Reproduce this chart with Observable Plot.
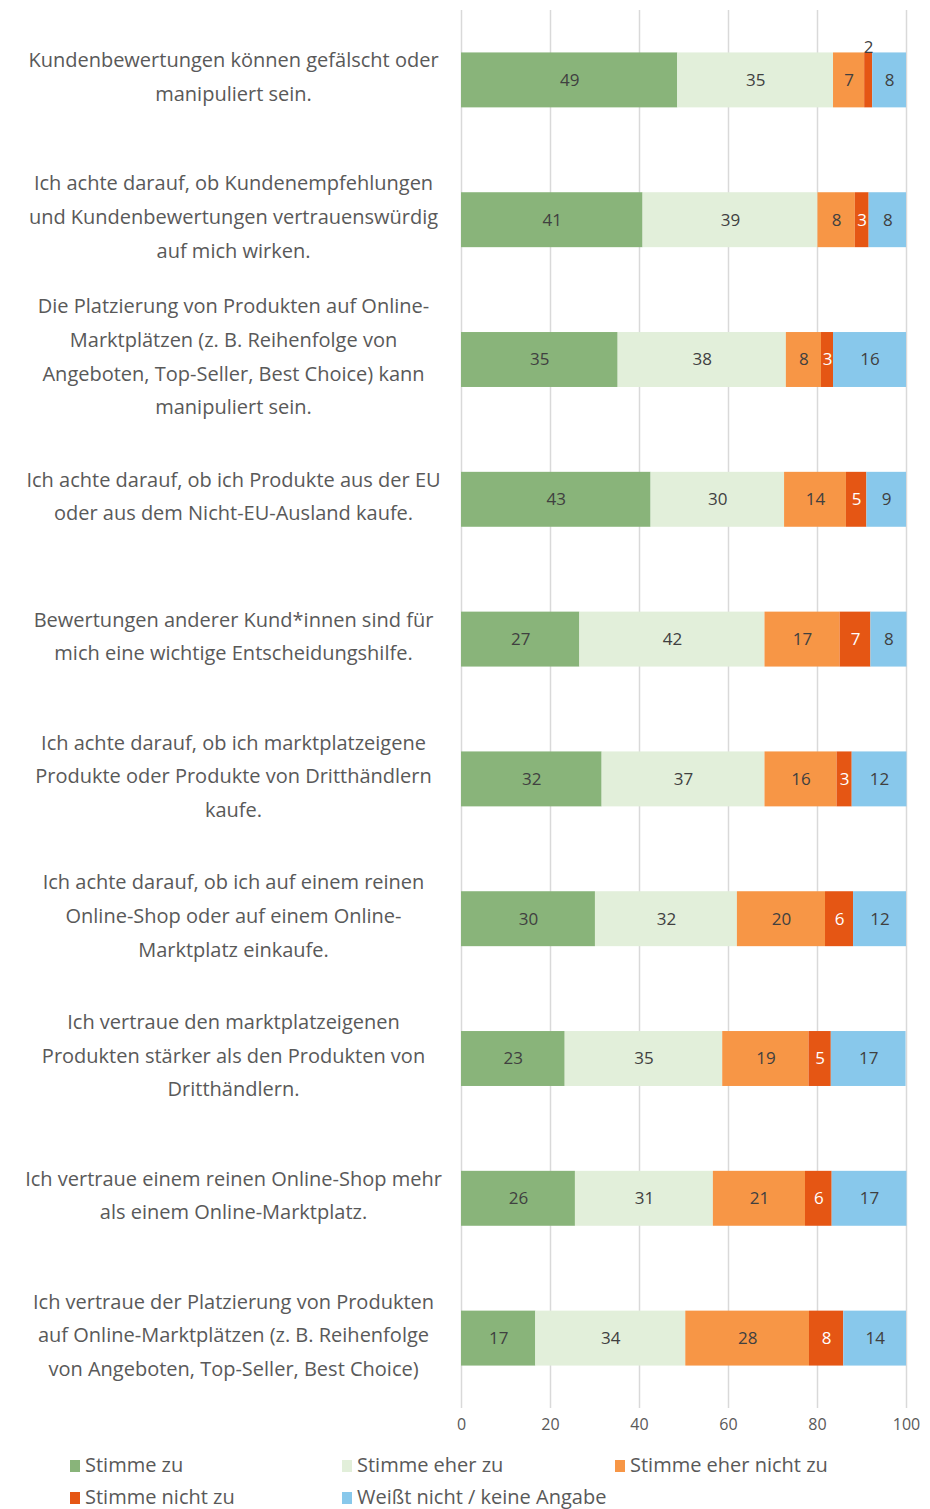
<!DOCTYPE html>
<html>
<head>
<meta charset="utf-8">
<script src="https://cdn.jsdelivr.net/npm/d3@7"></script>
<script src="https://cdn.jsdelivr.net/npm/@observablehq/plot@0.6"></script>
<style>
  body { margin: 0; background: #fff; font-family: "Open Sans", sans-serif; }
  #chart svg { display: block; }
  .legend { display: grid; grid-template-columns: 272px 273px 300px; padding: 8px 0 0 70px; color: #595959; font-size: 20px; row-gap: 0px; }
  .legend .item { display: flex; align-items: center; height: 32px; white-space: nowrap; }
  .legend .sw { width: 10px; height: 12px; margin-right: 5px; margin-top: 4px; }
</style>
</head>
<body>
<div id="chart"></div>
<div class="legend" id="legend"></div>
<script>
const categories = [
  "Kundenbewertungen können gefälscht oder\nmanipuliert sein.",
  "Ich achte darauf, ob Kundenempfehlungen\nund Kundenbewertungen vertrauenswürdig\nauf mich wirken.",
  "Die Platzierung von Produkten auf Online-\nMarktplätzen (z. B. Reihenfolge von\nAngeboten, Top-Seller, Best Choice) kann\nmanipuliert sein.",
  "Ich achte darauf, ob ich Produkte aus der EU\noder aus dem Nicht-EU-Ausland kaufe.",
  "Bewertungen anderer Kund*innen sind für\nmich eine wichtige Entscheidungshilfe.",
  "Ich achte darauf, ob ich marktplatzeigene\nProdukte oder Produkte von Dritthändlern\nkaufe.",
  "Ich achte darauf, ob ich auf einem reinen\nOnline-Shop oder auf einem Online-\nMarktplatz einkaufe.",
  "Ich vertraue den marktplatzeigenen\nProdukten stärker als den Produkten von\nDritthändlern.",
  "Ich vertraue einem reinen Online-Shop mehr\nals einem Online-Marktplatz.",
  "Ich vertraue der Platzierung von Produkten\nauf Online-Marktplätzen (z. B. Reihenfolge\nvon Angeboten, Top-Seller, Best Choice)"
];
const seriesNames = ["Stimme zu", "Stimme eher zu", "Stimme eher nicht zu", "Stimme nicht zu", "Weißt nicht / keine Angabe"];
const seriesColors = ["#89b47a", "#e2efda", "#f79646", "#e55614", "#88c8eb"];
const stimmeZu      = [48.6, 40.8, 35.2, 42.6, 26.6, 31.6, 30.1, 23.3, 25.6, 16.7];
const stimmeEherZu  = [35.0, 39.3, 37.8, 30.0, 41.6, 36.6, 31.9, 35.4, 31.0, 33.7];
const eherNichtZu   = [7.0, 8.4, 7.9, 13.9, 16.9, 16.2, 19.8, 19.4, 20.7, 27.8];
const nichtZu       = [1.8, 3.1, 2.7, 4.6, 6.9, 3.4, 6.3, 5.0, 6.0, 7.7];
const weissNicht    = [7.6, 8.4, 16.4, 8.9, 8.1, 12.3, 11.9, 16.8, 16.8, 14.1];
const xTicks = [0, 20, 40, 60, 80, 100];

const seriesValues = [stimmeZu, stimmeEherZu, eherNichtZu, nichtZu, weissNicht];
const data = [];
categories.forEach((cat, i) => {
  seriesNames.forEach((s, j) => data.push({cat, series: s, value: seriesValues[j][i]}));
});
const fmt = v => String(Math.round(v));
const stackOpts = {x: "value", y: "cat", z: "series", order: seriesNames};

const chart = Plot.plot({
  width: 930,
  height: 1440,
  marginLeft: 461,
  marginRight: 24,
  marginTop: 10,
  marginBottom: 32,
  style: {fontFamily: "Open Sans, sans-serif", background: "#fff"},
  x: {domain: [0, 100], label: null},
  y: {domain: categories, axis: null, paddingInner: 0.607, paddingOuter: 0.3035, round: false},
  color: {domain: seriesNames, range: seriesColors},
  marks: [
    Plot.gridX(xTicks, {stroke: "#d9d9d9", strokeOpacity: 1, strokeWidth: 1.5}),
    Plot.axisX(xTicks, {tickSize: 0, tickPadding: 10, fontSize: 16, fill: "#595959", label: null, tickFormat: d => String(d)}),
    Plot.barX(data, Plot.stackX({...stackOpts, fill: "series"})),
    Plot.text(data, Plot.stackX({...stackOpts,
      text: d => (d.value >= 2.5 && d.series !== "Stimme nicht zu") ? fmt(d.value) : null,
      fill: "#404040", fontSize: 17})),
    Plot.text(data, Plot.stackX({...stackOpts,
      text: d => (d.value >= 2.5 && d.series === "Stimme nicht zu") ? fmt(d.value) : null,
      fill: "#ffffff", fontSize: 17})),
    Plot.text(data, Plot.stackX({...stackOpts,
      text: d => d.value < 2.5 ? fmt(d.value) : null,
      fill: "#404040", fontSize: 17, dy: -33})),
    Plot.text(categories, {y: d => d, text: d => d, frameAnchor: "left", dx: -228, dy: -7,
      textAnchor: "middle", lineAnchor: "middle", lineHeight: 1.68, fontSize: 20, fill: "#595959"})
  ]
});
document.getElementById("chart").appendChild(chart);

const legend = document.getElementById("legend");
seriesNames.forEach((s, i) => {
  const item = document.createElement("div");
  item.className = "item";
  const sw = document.createElement("span");
  sw.className = "sw";
  sw.style.background = seriesColors[i];
  const t = document.createElement("span");
  t.textContent = s;
  item.appendChild(sw); item.appendChild(t);
  legend.appendChild(item);
});
</script>
</body>
</html>
